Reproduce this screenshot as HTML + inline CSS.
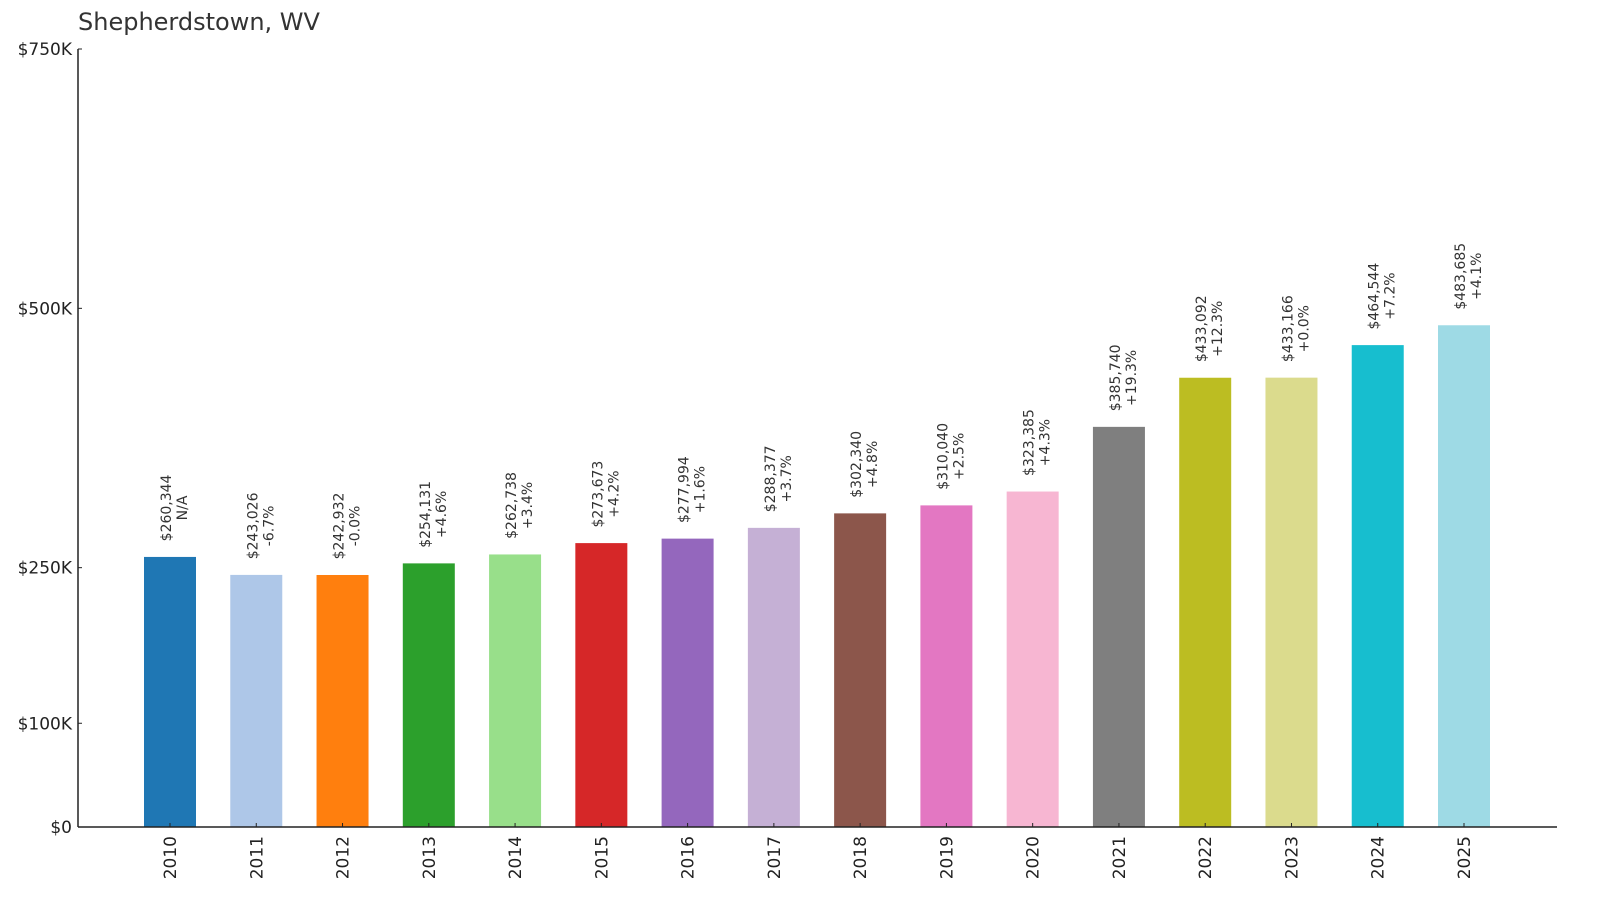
<!DOCTYPE html>
<html><head><meta charset="utf-8"><style>
body{margin:0;background:#fff;}
svg{display:block;font-family:"DejaVu Sans","Liberation Sans",sans-serif;}
</style></head><body>
<svg id="chart" width="1600" height="910" viewBox="0 0 1600 910">
<text x="78" y="30" font-size="24" fill="#333">Shepherdstown, WV</text>
<g id="bars"></g>
<g id="axes"></g>
</svg>
<script>
const years = ["2010","2011","2012","2013","2014","2015","2016","2017","2018","2019","2020","2021","2022","2023","2024","2025"];
const values = [260344,243026,242932,254131,262738,273673,277994,288377,302340,310040,323385,385740,433092,433166,464544,483685];
const changes = ["N/A","-6.7%","-0.0%","+4.6%","+3.4%","+4.2%","+1.6%","+3.7%","+4.8%","+2.5%","+4.3%","+19.3%","+12.3%","+0.0%","+7.2%","+4.1%"];
const yTicks = [0,100000,250000,500000,750000];
const yTickLabels = ["$0","$100K","$250K","$500K","$750K"];
const colors = ["#1f77b4","#aec7e8","#ff7f0e","#2ca02c","#98df8a","#d62728","#9467bd","#c5b0d5","#8c564b","#e377c2","#f7b6d2","#7f7f7f","#bcbd22","#dbdb8d","#17becf","#9edae5"];

const NS="http://www.w3.org/2000/svg";
const y0=827, yTop=49, yMax=750000;
const yScale=v=>y0-(v/yMax)*(y0-yTop);
const x0=170, step=(1464-170)/15, bw=52;
const xScale=i=>x0+i*step;
const bars=document.getElementById('bars'), axes=document.getElementById('axes');
function mk(tag,attrs,parent){const e=document.createElementNS(NS,tag);for(const k in attrs)e.setAttribute(k,attrs[k]);parent.appendChild(e);return e;}

values.forEach((v,i)=>{
  const cx=xScale(i), top=yScale(v);
  const r=mk('rect',{x:cx-bw/2,y:top,width:bw,height:y0-top,fill:colors[i]},bars);
  
  
  const t=mk('text',{transform:`translate(${cx},${top-49}) rotate(-90)`,'font-size':'14','fill':'#333','text-anchor':'middle'},bars);
  
  
  const s1=mk('tspan',{x:0,y:1},t); s1.textContent='$'+v.toLocaleString('en-US');
  const s2=mk('tspan',{x:0,y:17},t); s2.textContent=changes[i];
  const tk=mk('line',{x1:cx,x2:cx,y1:y0,y2:y0-4,stroke:'#222','stroke-width':1},axes);
  
  
  const xl=mk('text',{transform:`translate(${cx+6},836) rotate(-90)`,'font-size':'17','fill':'#222','text-anchor':'end'},axes);
  
  
  xl.textContent=years[i];
});
yTicks.forEach((v,i)=>{
  const y=yScale(v);
  const tk=mk('line',{x1:78,x2:82,y1:y,y2:y,stroke:'#222','stroke-width':1},axes);
  
  
  const l=mk('text',{x:72,y:y+6,'font-size':'17','fill':'#222','text-anchor':'end'},axes);
  
  
  l.textContent=yTickLabels[i];
});
const ya=mk('line',{x1:78,x2:78,y1:yTop,y2:y0,stroke:'#222','stroke-width':1.5},axes);


const xa=mk('line',{x1:78,x2:1557,y1:y0,y2:y0,stroke:'#222','stroke-width':1.5},axes);


</script>
</body></html>
